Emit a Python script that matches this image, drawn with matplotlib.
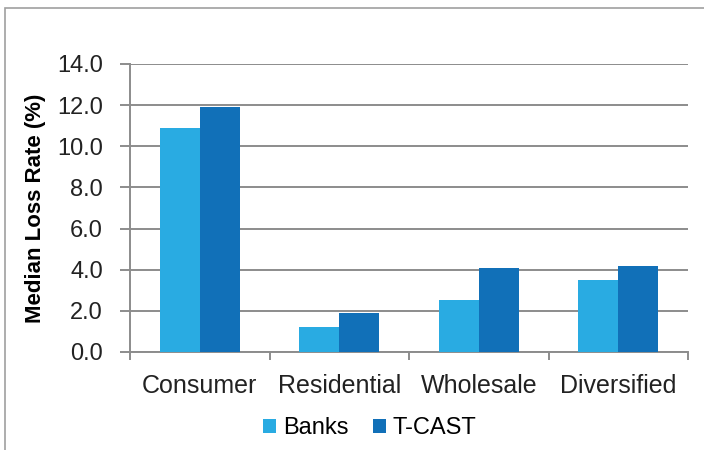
import matplotlib
matplotlib.use("Agg")
from matplotlib import pyplot as plt
from matplotlib.patches import Rectangle
import numpy as np

categories = ["Consumer", "Residential", "Wholesale", "Diversified"]
banks = [10.9, 1.2, 2.55, 3.5]
tcast = [11.9, 1.9, 4.1, 4.2]
series_names = ["Banks", "T-CAST"]
yticks = [0.0, 2.0, 4.0, 6.0, 8.0, 10.0, 12.0, 14.0]

plt.rcParams['font.family'] = ['Liberation Sans', 'DejaVu Sans']

fig = plt.figure(figsize=(7.04, 4.5), dpi=100)
ax = fig.add_axes([130/704, 1 - 352/450, 558/704, 288/450])

# outer frame, only the top/left edges show in the reference
fig.patches.append(Rectangle((5/704, -0.1), 1.2, 1 - 8/450 + 0.1, transform=fig.transFigure,
                             fill=False, edgecolor='#a0a0a0', linewidth=1.2, zorder=0))

x = np.arange(len(categories))
w = 0.285
ax.bar(x - w/2, banks, w, color='#29abe2', label=series_names[0], zorder=3)
ax.bar(x + w/2, tcast, w, color='#1170b8', label=series_names[1], zorder=3)

ax.set_xlim(-0.5, len(categories) - 0.5)
ax.set_ylim(0, 14)
ax.set_yticks(yticks)
ax.set_yticklabels([f"{v:.1f}" for v in yticks], fontsize=17, color='#222222')
ax.yaxis.grid(True, color='#8c8c8c', linewidth=1.4)
ax.set_axisbelow(True)

ax.set_xticks(x)
ax.set_xticklabels(categories, fontsize=18, color='#222222')
ax.set_xticks(np.arange(len(categories) + 1) - 0.5, minor=True)
ax.tick_params(axis='x', which='major', length=0, pad=16)
ax.tick_params(axis='x', which='minor', length=6, width=1.4, color='#8c8c8c', direction='out')
ax.tick_params(axis='y', length=7.5, width=1.4, color='#8c8c8c', pad=12)

for s in ['top', 'right']:
    ax.spines[s].set_visible(False)
for s in ['left', 'bottom']:
    ax.spines[s].set_color('#8c8c8c')
    ax.spines[s].set_linewidth(1.4)

ax.set_ylabel("Median Loss Rate (%)", fontsize=16, fontweight='bold', labelpad=8)

fig.legend(loc='center', bbox_to_anchor=(370/704, 1 - 428/450), ncol=2, frameon=False,
           fontsize=17, handlelength=0.55, handleheight=0.55, handletextpad=0.3, columnspacing=1.0)

fig.savefig("out.png", dpi=100)
